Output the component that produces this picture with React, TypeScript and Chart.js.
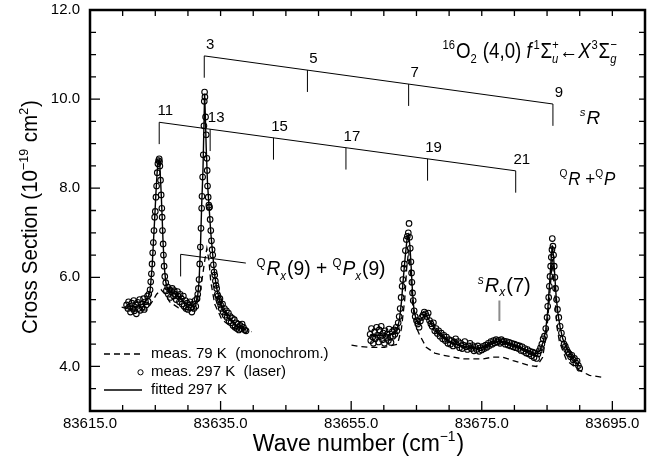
import React, { useEffect, useRef } from 'react';
import { Chart, registerables } from 'chart.js';
Chart.register(...registerables);

const FONT = '"Liberation Sans", Arial, Helvetica, sans-serif';

// ---- axis ticks ----
const xTickValues = [83615, 83635, 83655, 83675, 83695];
const yTickValues = [4, 6, 8, 10, 12];
const X_MIN = 83615, X_MAX = 83700, Y_MIN = 3, Y_MAX = 12;

// ---- measured 297 K (laser), [wave number, cross section] ----
const meas297Left: [number, number][] = [
  [83620.6, 5.38], [83620.8, 5.30], [83620.9, 5.45], [83621.1, 5.35], [83621.2, 5.22], [83621.4, 5.42],
  [83621.5, 5.30], [83621.7, 5.48], [83621.8, 5.25], [83622.0, 5.38], [83622.1, 5.18], [83622.3, 5.44],
  [83622.4, 5.30], [83622.6, 5.50], [83622.7, 5.26], [83622.9, 5.40], [83623.0, 5.33], [83623.2, 5.52],
  [83623.3, 5.28], [83623.5, 5.45], [83623.6, 5.38], [83623.8, 5.58], [83623.9, 5.46], [83624.0, 5.62],
  [83624.2, 5.72], [83624.3, 5.90], [83624.4, 6.08], [83624.5, 6.30], [83624.6, 6.55], [83624.7, 6.78],
  [83624.8, 7.05], [83624.9, 7.35], [83625.0, 7.48], [83625.1, 7.80], [83625.2, 8.05], [83625.3, 8.35],
  [83625.4, 8.55], [83625.5, 8.62], [83625.6, 8.66], [83625.65, 8.60], [83625.7, 8.50], [83625.8, 8.18],
  [83625.9, 7.85], [83626.0, 7.55], [83626.05, 7.35], [83626.1, 7.05], [83626.2, 6.75], [83626.25, 6.50],
  [83626.35, 6.25], [83626.45, 6.02], [83626.6, 5.88], [83626.7, 5.70], [83626.9, 5.78], [83627.0, 5.62],
  [83627.2, 5.72], [83627.3, 5.55], [83627.5, 5.68], [83627.6, 5.75], [83627.8, 5.58], [83627.9, 5.70],
  [83628.1, 5.62], [83628.2, 5.50], [83628.4, 5.68], [83628.5, 5.58], [83628.7, 5.45], [83628.8, 5.62],
  [83629.0, 5.52], [83629.1, 5.40], [83629.3, 5.58], [83629.4, 5.35], [83629.6, 5.48], [83629.7, 5.30],
  [83629.9, 5.42], [83630.0, 5.28], [83630.2, 5.38], [83630.3, 5.45], [83630.5, 5.32], [83630.6, 5.22],
  [83630.8, 5.40], [83630.9, 5.30], [83631.1, 5.48], [83631.2, 5.35], [83631.4, 5.52], [83631.5, 5.62],
  [83631.6, 5.75], [83631.7, 5.95], [83631.8, 6.30], [83631.9, 6.68], [83632.0, 7.10], [83632.1, 7.55],
  [83632.15, 7.82], [83632.25, 8.25], [83632.35, 8.75], [83632.45, 9.40], [83632.5, 9.95], [83632.55, 10.16],
  [83632.6, 10.05], [83632.7, 9.60], [83632.8, 9.20], [83632.9, 8.67], [83632.95, 8.40], [83633.0, 8.05],
  [83633.1, 7.80], [83633.2, 7.62], [83633.25, 7.57], [83633.3, 7.58], [83633.4, 7.30], [83633.5, 7.05],
  [83633.6, 6.82], [83633.7, 6.62], [83633.8, 6.50], [83633.9, 6.28], [83634.0, 6.12], [83634.1, 6.05],
  [83634.2, 5.92], [83634.3, 5.82], [83634.4, 5.75], [83634.5, 5.62], [83634.6, 5.58], [83634.7, 5.50],
  [83634.8, 5.45], [83634.9, 5.52], [83635.0, 5.38], [83635.1, 5.30], [83635.3, 5.40], [83635.4, 5.22],
  [83635.6, 5.30], [83635.7, 5.15], [83635.9, 5.25], [83636.0, 5.10], [83636.2, 5.20], [83636.3, 5.02],
  [83636.5, 5.12], [83636.6, 4.98], [83636.8, 5.08], [83636.9, 4.92], [83637.1, 5.05], [83637.2, 4.88],
  [83637.4, 4.98], [83637.5, 4.85], [83637.7, 4.95], [83637.8, 4.82], [83638.0, 4.92], [83638.1, 4.85],
  [83638.3, 4.95], [83638.5, 4.88], [83638.7, 4.82], [83638.9, 4.80],
];

const meas297Right: [number, number][] = [
  [83657.9, 4.72], [83658.0, 4.58], [83658.1, 4.85], [83658.3, 4.66], [83658.4, 4.52], [83658.6, 4.78],
  [83658.7, 4.62], [83658.9, 4.88], [83659.0, 4.70], [83659.2, 4.55], [83659.3, 4.82], [83659.5, 4.68],
  [83659.6, 4.90], [83659.8, 4.60], [83659.9, 4.75], [83660.1, 4.52], [83660.2, 4.80], [83660.4, 4.65],
  [83660.5, 4.72], [83660.7, 4.58], [83660.8, 4.84], [83661.0, 4.66], [83661.1, 4.54], [83661.3, 4.78],
  [83661.4, 4.68], [83661.6, 4.82], [83661.7, 4.72], [83661.9, 4.88], [83662.0, 4.80], [83662.2, 4.98],
  [83662.35, 5.12], [83662.5, 5.30], [83662.65, 5.55], [83662.8, 5.80], [83662.9, 5.95], [83663.05, 6.20],
  [83663.15, 6.30], [83663.3, 6.60], [83663.45, 6.85], [83663.6, 6.92], [83663.75, 7.00], [83663.86, 7.21],
  [83663.95, 6.90], [83664.05, 6.65], [83664.15, 6.35], [83664.25, 6.10], [83664.3, 5.89], [83664.4, 5.65],
  [83664.5, 5.48], [83664.65, 5.25], [83664.8, 5.12], [83665.0, 5.03], [83665.2, 4.95], [83665.4, 4.88],
  [83665.6, 5.02], [83665.8, 5.10], [83666.0, 5.15], [83666.2, 5.22], [83666.4, 5.18], [83666.6, 5.12],
  [83666.8, 5.20], [83667.0, 5.03], [83667.2, 4.96], [83667.4, 4.90], [83667.6, 4.98], [83667.8, 4.80],
  [83668.0, 4.85], [83668.2, 4.74], [83668.4, 4.80], [83668.6, 4.68], [83668.8, 4.75], [83669.0, 4.62],
  [83669.2, 4.70], [83669.4, 4.58], [83669.6, 4.66], [83669.8, 4.52], [83670.0, 4.60], [83670.2, 4.50],
  [83670.4, 4.58], [83670.6, 4.46], [83670.8, 4.55], [83671.0, 4.62], [83671.2, 4.48], [83671.4, 4.56],
  [83671.6, 4.42], [83671.8, 4.52], [83672.0, 4.40], [83672.2, 4.48], [83672.4, 4.56], [83672.6, 4.44],
  [83672.8, 4.38], [83673.0, 4.46], [83673.2, 4.52], [83673.4, 4.40], [83673.6, 4.47], [83673.8, 4.35],
  [83674.0, 4.43], [83674.2, 4.38], [83674.4, 4.46], [83674.6, 4.34], [83674.8, 4.42], [83675.0, 4.37],
  [83675.2, 4.45], [83675.4, 4.40], [83675.6, 4.48], [83675.8, 4.43], [83676.0, 4.52], [83676.2, 4.47],
  [83676.4, 4.56], [83676.6, 4.50], [83676.8, 4.58], [83677.0, 4.53], [83677.2, 4.60], [83677.4, 4.55],
  [83677.6, 4.58], [83677.8, 4.52], [83678.0, 4.60], [83678.2, 4.55], [83678.4, 4.57], [83678.6, 4.50],
  [83678.8, 4.56], [83679.0, 4.48], [83679.2, 4.54], [83679.4, 4.46], [83679.6, 4.52], [83679.8, 4.44],
  [83680.0, 4.50], [83680.2, 4.42], [83680.4, 4.48], [83680.6, 4.40], [83680.8, 4.46], [83681.0, 4.36],
  [83681.2, 4.44], [83681.4, 4.34], [83681.6, 4.40], [83681.8, 4.30], [83682.0, 4.38], [83682.2, 4.28],
  [83682.4, 4.34], [83682.6, 4.24], [83682.8, 4.32], [83683.0, 4.20], [83683.2, 4.30], [83683.4, 4.18],
  [83683.6, 4.28], [83683.8, 4.35], [83684.0, 4.42], [83684.2, 4.50], [83684.4, 4.62], [83684.6, 4.68],
  [83684.8, 4.85], [83685.0, 5.10], [83685.1, 5.35], [83685.25, 5.55], [83685.35, 5.80], [83685.45, 6.02],
  [83685.55, 6.25], [83685.65, 6.45], [83685.75, 6.62], [83685.8, 6.87], [83685.9, 6.70], [83686.0, 6.50],
  [83686.1, 6.25], [83686.2, 6.00], [83686.3, 5.75], [83686.45, 5.50], [83686.6, 5.28], [83686.8, 5.10],
  [83687.0, 4.90], [83687.2, 4.75], [83687.4, 4.62], [83687.6, 4.50], [83687.8, 4.45], [83688.0, 4.38],
  [83688.2, 4.32], [83688.4, 4.28], [83688.6, 4.22], [83688.8, 4.25], [83689.0, 4.15], [83689.2, 4.18],
  [83689.4, 4.08], [83689.6, 4.12], [83689.8, 4.02], [83690.0, 3.96],
];

// ---- fitted 297 K ----
const fit297Left: [number, number][] = [
  [83620.5, 5.36], [83621.5, 5.34], [83622.5, 5.36], [83623.3, 5.42], [83623.8, 5.52], [83624.2, 5.70],
  [83624.5, 6.20], [83624.7, 6.75], [83624.9, 7.30], [83625.1, 7.90], [83625.3, 8.40], [83625.5, 8.62],
  [83625.6, 8.64], [83625.7, 8.50], [83625.9, 7.90], [83626.05, 7.35], [83626.2, 6.75], [83626.4, 6.20],
  [83626.6, 5.90], [83626.9, 5.72], [83627.5, 5.66], [83628.3, 5.60], [83629.0, 5.50], [83629.8, 5.40],
  [83630.6, 5.36], [83631.2, 5.42], [83631.5, 5.60], [83631.7, 5.90], [83631.9, 6.60], [83632.1, 7.60],
  [83632.3, 8.40], [83632.45, 9.40], [83632.55, 10.12], [83632.65, 9.70], [83632.8, 8.90], [83633.0, 8.10],
  [83633.25, 7.55], [83633.5, 7.00], [83633.8, 6.50], [83634.1, 6.05], [83634.4, 5.75], [83634.9, 5.45],
  [83635.5, 5.25], [83636.2, 5.08], [83637.0, 4.96], [83637.8, 4.88], [83638.9, 4.82],
];
const fit297Right: [number, number][] = [
  [83657.9, 4.70], [83659.5, 4.70], [83661.0, 4.71], [83662.0, 4.82], [83662.4, 5.05], [83662.7, 5.45],
  [83663.0, 6.00], [83663.3, 6.50], [83663.55, 6.85], [83663.8, 6.95], [83664.0, 6.70], [83664.2, 6.20],
  [83664.4, 5.65], [83664.6, 5.30], [83664.9, 5.08], [83665.3, 4.95], [83665.7, 5.05], [83666.2, 5.15],
  [83666.7, 5.10], [83667.3, 4.95], [83668.0, 4.80], [83669.0, 4.66], [83670.2, 4.54], [83671.5, 4.48],
  [83673.0, 4.43], [83674.5, 4.41], [83675.7, 4.45], [83677.0, 4.55], [83678.2, 4.56], [83679.5, 4.50],
  [83681.0, 4.42], [83682.5, 4.33], [83683.3, 4.28], [83683.9, 4.36], [83684.4, 4.55], [83684.8, 4.82],
  [83685.1, 5.25], [83685.4, 5.90], [83685.65, 6.45], [83685.8, 6.72], [83686.0, 6.45], [83686.2, 6.00],
  [83686.4, 5.55], [83686.7, 5.15], [83687.0, 4.88], [83687.4, 4.62], [83688.0, 4.40], [83688.8, 4.22],
  [83689.5, 4.08], [83690.0, 4.00],
];

// ---- measured 79 K (monochromator) ----
const meas79Left: [number, number][] = [
  [83619.85, 5.33], [83621.1, 5.28], [83622.65, 5.26], [83623.7, 5.27], [83624.5, 5.45], [83625.2, 5.62],
  [83625.9, 5.72], [83626.5, 5.62], [83627.2, 5.45], [83628.5, 5.32], [83629.7, 5.28], [83630.9, 5.29],
  [83631.7, 5.50], [83632.1, 5.90], [83632.6, 6.40], [83632.9, 6.65], [83633.2, 6.40], [83633.5, 5.90],
  [83634.1, 5.40], [83635.2, 5.05], [83636.7, 4.88], [83638.6, 4.80], [83639.8, 4.78],
];
const meas79Right: [number, number][] = [
  [83655.05, 4.48], [83656.3, 4.45], [83657.85, 4.43], [83660.1, 4.43], [83662.1, 4.50], [83662.7, 4.85],
  [83663.2, 5.50], [83663.5, 6.20], [83663.8, 6.60], [83664.1, 6.10], [83664.4, 5.40], [83664.9, 4.90],
  [83665.5, 4.70], [83666.5, 4.43], [83667.8, 4.30], [83669.1, 4.25], [83672.1, 4.17], [83675.2, 4.17],
  [83676.7, 4.21], [83678.2, 4.21], [83679.8, 4.13], [83682.3, 4.02], [83683.4, 4.00], [83684.3, 4.20],
  [83684.9, 4.70], [83685.4, 5.60], [83685.8, 6.40], [83686.2, 5.60], [83686.5, 4.90], [83686.9, 4.55],
  [83688.0, 4.13], [83690.0, 3.91], [83691.5, 3.80], [83693.3, 3.76],
];

// ---- assignment ladders ----
const sBranchLabels = ['3', '5', '7', '9'];
const sBranchX = [83632.5, 83648.3, 83663.8, 83685.9];
const sBranchEndsY = [10.97, 9.89];
const qBranchLabels = ['11', '13', '15', '17', '19', '21'];
const qBranchX = [83625.6, 83633.4, 83643.1, 83654.2, 83666.7, 83680.2];
const qBranchEndsY = [9.48, 8.39];
const branchTickDrop = 0.49;

type Seg = { t?: string; sup?: string; sub?: string; it?: boolean; dx?: number };

const fontStr = (size: number, it?: boolean) => `${it ? 'italic ' : ''}${size}px ${FONT}`;

function measureRich(ctx: CanvasRenderingContext2D, segs: Seg[], size: number) {
  const small = size * 0.6;
  return segs.map((s) => {
    let w = 0;
    if (s.t !== undefined) {
      ctx.font = fontStr(size, s.it);
      w = ctx.measureText(s.t).width;
    } else {
      let a = 0, b = 0;
      if (s.sup) { ctx.font = fontStr(small, s.it); a = ctx.measureText(s.sup).width; }
      if (s.sub) { ctx.font = fontStr(small, s.it); b = ctx.measureText(s.sub).width; }
      w = Math.max(a, b) + 1;
    }
    return w + (s.dx || 0);
  });
}

function drawRich(ctx: CanvasRenderingContext2D, segs: Seg[], x: number, y: number, size: number, align: 'left' | 'center' | 'right' = 'left') {
  const small = size * 0.6;
  const widths = measureRich(ctx, segs, size);
  const total = widths.reduce((p, c) => p + c, 0);
  let cx = align === 'center' ? x - total / 2 : align === 'right' ? x - total : x;
  ctx.textBaseline = 'alphabetic';
  ctx.textAlign = 'left';
  segs.forEach((s, i) => {
    if (s.t !== undefined) {
      ctx.font = fontStr(size, s.it);
      ctx.fillText(s.t, cx, y);
    } else {
      ctx.font = fontStr(small, s.it);
      if (s.sup) ctx.fillText(s.sup, cx, y - size * 0.42);
      if (s.sub) ctx.fillText(s.sub, cx, y + size * 0.22);
    }
    cx += widths[i];
  });
  return total;
}

// draws rich text starting at x, squeezed horizontally to a given width
function drawRichFit(ctx: CanvasRenderingContext2D, segs: Seg[], x: number, y: number, size: number, width: number) {
  const w = measureRich(ctx, segs, size).reduce((p, c) => p + c, 0);
  ctx.save();
  ctx.translate(x, y);
  ctx.scale(width / w, 1);
  drawRich(ctx, segs, 0, 0, size, 'left');
  ctx.restore();
}

const decorPlugin = {
  id: 'decor',
  afterDraw(chart: any) {
    const ctx: CanvasRenderingContext2D = chart.ctx;
    const xs = chart.scales.x, ys = chart.scales.y;
    const { left, right, top, bottom } = chart.chartArea;
    const px = (v: number) => xs.getPixelForValue(v);
    const py = (v: number) => ys.getPixelForValue(v);
    ctx.save();
    ctx.strokeStyle = '#000';
    ctx.fillStyle = '#000';

    // inward tick marks
    ctx.lineWidth = 1.3;
    ctx.beginPath();
    for (let v = X_MIN; v <= X_MAX + 1e-6; v += 5) {
      const x = px(v);
      const major = xTickValues.includes(v);
      ctx.moveTo(x, bottom); ctx.lineTo(x, bottom - (major ? 10 : 6));
      ctx.moveTo(x, top); ctx.lineTo(x, top + 6);
    }
    for (let v = Y_MIN; v <= Y_MAX + 1e-6; v += 0.5) {
      const y = py(v);
      const major = yTickValues.includes(v);
      ctx.moveTo(left, y); ctx.lineTo(left + (major ? 10 : 6), y);
      ctx.moveTo(right, y); ctx.lineTo(right - 6, y);
    }
    ctx.stroke();

    // frame
    ctx.lineWidth = 2.5;
    ctx.strokeRect(left, top, right - left, bottom - top);

    // ladders
    ctx.lineWidth = 1;
    const ladder = (labels: string[], xsv: number[], ends: number[]) => {
      const x0 = xsv[0], x1 = xsv[xsv.length - 1];
      const yAt = (v: number) => ends[0] + (ends[1] - ends[0]) * (v - x0) / (x1 - x0);
      ctx.beginPath();
      ctx.moveTo(px(x0), py(ends[0]));
      ctx.lineTo(px(x1), py(ends[1]));
      xsv.forEach((v) => {
        ctx.moveTo(px(v), py(yAt(v)));
        ctx.lineTo(px(v), py(yAt(v) - branchTickDrop));
      });
      ctx.stroke();
      ctx.font = fontStr(15);
      ctx.textAlign = 'center';
      ctx.textBaseline = 'middle';
      labels.forEach((lab, i) => {
        const v = xsv[i];
        ctx.fillText(lab, px(v) + 6, py(yAt(v)) - 11);
      });
    };
    ladder(sBranchLabels, sBranchX, sBranchEndsY);
    ladder(qBranchLabels, qBranchX, qBranchEndsY);

    // bracket for QRx(9)+QPx(9)
    ctx.beginPath();
    ctx.moveTo(px(83628.88), py(6.02));
    ctx.lineTo(px(83628.88), py(6.517));
    ctx.lineTo(px(83638.87), py(6.32));
    ctx.stroke();

    // grey marker for sRx(7)
    ctx.save();
    ctx.strokeStyle = '#8c8c8c';
    ctx.lineWidth = 2;
    ctx.beginPath();
    ctx.moveTo(px(83677.7), py(5.48));
    ctx.lineTo(px(83677.7), py(5.02));
    ctx.stroke();
    ctx.restore();

    // texts
    drawRichFit(ctx, [
      { sup: '16' }, { t: 'O' }, { sub: '2' }, { t: ' (4,0) ' }, { t: 'f', it: true, dx: 2 }, { sup: '1' },
      { t: 'Σ' }, { sup: '+', sub: 'u', it: true }, { t: '←' }, { t: 'X', it: true, dx: 1 }, { sup: '3' }, { t: 'Σ' },
      { sup: '−', sub: 'g', it: true },
    ], px(83669.0), py(10.92), 22, 175);
    drawRich(ctx, [{ sup: 's', it: true }, { t: 'R', it: true }], px(83690.0), py(9.45), 19);
    drawRichFit(ctx, [{ sup: 'Q' }, { t: 'R', it: true }, { t: ' +' }, { sup: 'Q' }, { t: 'P', it: true }], px(83686.9), py(8.07), 19, 56);
    drawRichFit(ctx, [{ sup: 'Q' }, { t: 'R', it: true }, { sub: 'x', it: true }, { t: '(9) + ' }, { sup: 'Q' }, { t: 'P', it: true }, { sub: 'x', it: true }, { t: '(9)' }], px(83640.5), py(6.045), 20, 129);
    drawRich(ctx, [{ sup: 's', it: true }, { t: 'R', it: true }, { sub: 'x', it: true }, { t: '(7)' }], px(83674.4), py(5.67), 20);

    // axis titles
    drawRich(ctx, [{ t: 'Wave number (cm' }, { sup: '−1' }, { t: ')' }], (left + right) / 2 - 9, 451, 23, 'center');
    const ySegs: Seg[] = [{ t: 'Cross Section (10' }, { sup: '−19' }, { t: ' cm' }, { sup: '2' }, { t: ')' }];
    const yW = measureRich(ctx, ySegs, 22).reduce((p, c) => p + c, 0);
    ctx.save();
    ctx.translate(37, 217);
    ctx.rotate(-Math.PI / 2);
    ctx.scale(234 / yW, 1);
    drawRich(ctx, ySegs, 0, 0, 22, 'center');
    ctx.restore();

    // legend
    const lx = left + 14, lx2 = left + 52, tx = left + 61;
    ctx.lineWidth = 1.3;
    ctx.setLineDash([6, 4]);
    ctx.beginPath(); ctx.moveTo(lx, bottom - 57); ctx.lineTo(lx2, bottom - 57); ctx.stroke();
    ctx.setLineDash([]);
    ctx.lineWidth = 1;
    ctx.beginPath(); ctx.arc(left + 50.5, bottom - 38.7, 2.6, 0, Math.PI * 2); ctx.stroke();
    ctx.lineWidth = 1.3;
    ctx.beginPath(); ctx.moveTo(lx, bottom - 21); ctx.lineTo(lx2, bottom - 21); ctx.stroke();
    ctx.font = fontStr(15);
    ctx.textAlign = 'left';
    ctx.textBaseline = 'middle';
    ctx.fillText('meas. 79 K  (monochrom.)', tx, bottom - 57);
    ctx.fillText('meas. 297 K  (laser)', tx, bottom - 38.7);
    ctx.fillText('fitted 297 K', tx, bottom - 21);
    ctx.restore();
  },
};

const toPts = (arr: [number, number][]) => arr.map(([x, y]) => ({ x, y }));

export default function App() {
  const ref = useRef<HTMLCanvasElement>(null);
  useEffect(() => {
    if (!ref.current) return;
    const lineDs = (data: [number, number][], dashed: boolean, width: number) => ({
      type: 'line' as const,
      data: toPts(data),
      showLine: true,
      borderColor: '#000',
      borderWidth: width,
      borderDash: dashed ? [6, 4] : [],
      pointRadius: 0,
      fill: false,
      tension: 0,
    });
    const chart = new Chart(ref.current, {
      type: 'scatter',
      data: {
        datasets: [
          {
            type: 'scatter',
            data: [...toPts(meas297Left), ...toPts(meas297Right)],
            pointStyle: 'circle',
            pointRadius: 2.8,
            pointBorderWidth: 1.1,
            borderColor: '#000',
            backgroundColor: 'rgba(255,255,255,0)',
            pointBackgroundColor: 'rgba(255,255,255,0)',
            pointBorderColor: '#000',
          } as any,
          lineDs(fit297Left, false, 1.4),
          lineDs(fit297Right, false, 1.4),
          lineDs(meas79Left, true, 1.3),
          lineDs(meas79Right, true, 1.3),
        ],
      },
      options: {
        animation: false,
        responsive: false,
        devicePixelRatio: 1,
        events: [],
        layout: { padding: { left: 0, top: 10, right: 21, bottom: 0 } },
        plugins: { legend: { display: false }, tooltip: { enabled: false } },
        scales: {
          x: {
            type: 'linear',
            min: X_MIN,
            max: X_MAX,
            afterBuildTicks: (s: any) => { s.ticks = xTickValues.map((value) => ({ value })); },
            afterFit: (s: any) => { s.height = 52; s.paddingLeft = 0; s.paddingRight = 0; },
            grid: { display: false, drawTicks: false },
            border: { display: false },
            ticks: {
              autoSkip: false,
              maxRotation: 0,
              padding: 4,
              color: '#000',
              font: { family: FONT, size: 15 },
              callback: (v: any) => Number(v).toFixed(1),
            },
          },
          y: {
            type: 'linear',
            min: Y_MIN,
            max: Y_MAX,
            afterBuildTicks: (s: any) => { s.ticks = yTickValues.map((value) => ({ value })); },
            afterFit: (s: any) => { s.width = 90; s.paddingTop = 0; s.paddingBottom = 0; },
            grid: { display: false, drawTicks: false },
            border: { display: false },
            ticks: {
              padding: 10,
              color: '#000',
              font: { family: FONT, size: 15 },
              callback: (v: any) => Number(v).toFixed(1),
            },
          },
        },
      },
      plugins: [decorPlugin],
    } as any);
    return () => chart.destroy();
  }, []);
  return (
    <div style={{ position: 'fixed', left: 0, top: 0, width: 666, height: 463, background: '#fff' }}>
      <canvas ref={ref} width={666} height={463} style={{ width: 666, height: 463, display: 'block' }} />
    </div>
  );
}
